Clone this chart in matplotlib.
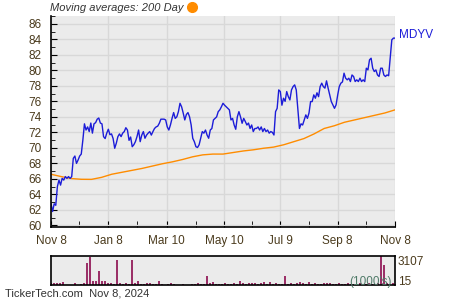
import numpy as np
import pandas as pd
import matplotlib
matplotlib.use("Agg")
import matplotlib.pyplot as plt
import matplotlib.dates as mdates
from matplotlib.ticker import MultipleLocator, FixedLocator, NullFormatter

plt.rcParams['font.family'] = ['Liberation Sans', 'DejaVu Sans']

# MDYV closing prices (Nov 8 2023 -> Nov 8 2024)
price = [62.8, 61.8, 62.8, 62.6, 65.0, 65.85, 65.2, 66.07, 65.85, 66.3, 66.07, 66.3, 66.07, 66.3,
         68.65, 68.95, 68.0, 68.43, 68.95, 69.2, 71.0, 73.1, 72.3, 72.7, 72.1, 73.2, 71.9, 73.1,
         73.25, 73.7, 73.85, 73.2, 73.1, 71.45, 71.2, 71.9, 72.4, 71.7, 71.8, 71.2, 69.95, 70.6,
         71.45, 71.8, 71.45, 71.9, 72.1, 72.6, 72.3, 70.97, 71.4, 70.15, 70.4, 70.8, 71.45, 72.3,
         70.8, 71.65, 72.1, 71.24, 71.65, 71.9, 72.1, 71.65, 72.1, 72.5, 72.7, 72.8, 73.17, 73.7,
         73.7, 73.7, 73.6, 72.7, 72.3, 72.96, 73.8, 74.55, 73.8, 74.0, 74.67, 75.75, 75.3, 74.5,
         73.6, 74.3, 74.55, 74.0, 72.96, 71.24, 70.8, 70.15, 70.05, 70.4, 71.24, 72.1, 71.9, 72.3,
         71.65, 71.24, 72.3, 72.5, 73.6, 73.8, 74.0, 74.67, 74.9, 75.3,
         75.75, 75.5, 75.3, 75.1, 74.9, 73.6, 73.8, 72.95, 72.4, 74.0, 74.67, 74.0, 73.17, 73.8,
         73.4, 72.95, 73.2, 72.5, 72.95, 72.1, 72.5, 72.5, 72.7, 72.3, 72.7, 72.1, 72.5, 72.1,
         72.3, 71.9, 72.1, 72.0, 71.66, 74.67, 75.1, 77.47, 77.26, 75.5, 76.4, 76.0, 77.26, 76.6,
         76.18, 77.47, 77.9, 78.12, 77.47, 74.9, 72.5, 73.1, 72.95, 73.6, 74.25, 73.8, 74.5,
         75.97, 75.97, 76.83, 76.4, 77.1, 76.6, 77.9, 78.34, 77.9, 77.7, 78.64, 77.7, 76.83, 75.97,
         75.54, 75.1, 75.54, 76.8, 77.9, 78.34, 78.5, 79.63, 78.98, 78.77, 78.98, 78.55, 79.4, 79.2,
         78.55, 78.77, 78.55, 78.98, 78.55, 78.77, 78.55, 80.27, 80.05, 81.35, 81.56, 80.27, 79.84,
         80.05, 79.4, 79.2, 80.27, 80.27, 79.4, 79.2, 79.4, 79.3, 81.56, 83.93, 84.15, 84.15]

# 200 day moving average
ma200 = [66.6, 66.3, 66.05, 65.95, 65.94, 66.2, 66.6, 66.85, 67.1, 67.35, 67.65, 67.95, 68.2,
         68.5, 68.85, 69.1, 69.2, 69.2, 69.4, 69.6, 69.75, 69.95, 70.1, 70.4, 70.8, 71.2, 71.8,
         72.5, 72.85, 73.3, 73.6, 73.9, 74.2, 74.5, 74.9]

# volume (1000's)
volume = [180, 200, 250, 180, 300, 0, 0, 0, 200, 0, 150, 180, 2400, 3050, 400, 450, 1500, 450,
          450, 200, 180, 150, 2680, 200, 150, 180, 150, 2700, 200, 400, 150, 150, 250, 180, 150,
          150, 450, 150, 0, 150, 180, 150, 0, 0, 150, 0, 0, 150, 150, 180, 150, 150, 960, 180,
          350, 150, 150, 150, 180, 150, 150, 200, 150, 400, 200, 150, 180, 250, 250, 150, 180,
          350, 150, 350, 150, 180, 150, 150, 960, 150, 180, 150, 250, 300, 250, 150, 350, 150,
          180, 150, 150, 180, 250, 250, 150, 150, 180, 150, 150, 180, 150, 150, 150, 180, 150,
          150, 180, 150, 150, 180, 3107, 2140, 200, 150, 180]

tick_dates = ['2023-11-08', '2024-01-08', '2024-03-10', '2024-05-10', '2024-07-09', '2024-09-08', '2024-11-08']
tick_labels = ['Nov 8', 'Jan 8', 'Mar 10', 'May 10', 'Jul 9', 'Sep 8', 'Nov 8']
minor_dates = ['2023-12-08', '2024-02-08', '2024-04-10', '2024-06-09', '2024-08-09', '2024-10-08']

start, end = pd.Timestamp('2023-11-08'), pd.Timestamp('2024-11-08')
price_dates = pd.date_range(start, end, periods=len(price))
ma_dates = pd.date_range(start, end, periods=len(ma200))
vol_dates = pd.date_range(start, pd.Timestamp('2024-11-06'), periods=len(volume))

txt = '#4a3a1c'
fig = plt.figure(figsize=(4.5, 3), dpi=100)
ax = fig.add_axes([51/450, 73/300, 344/450, 211/300])
ax.set_facecolor('#ebebeb')
ax.plot(ma_dates, ma200, color='#ff8c00', lw=1)
ax.plot(price_dates, price, color='#1c1cd8', lw=1)
ax.set_xlim(start, end)
ax.set_ylim(59.8, 87.0)

ax.yaxis.set_major_locator(MultipleLocator(2))
ax.yaxis.set_minor_locator(MultipleLocator(1))
ax.xaxis.set_major_locator(FixedLocator(mdates.date2num(pd.to_datetime(tick_dates))))
ax.xaxis.set_minor_locator(FixedLocator(mdates.date2num(pd.to_datetime(minor_dates))))
ax.set_xticklabels(tick_labels)
ax.xaxis.set_minor_formatter(NullFormatter())
ax.tick_params(axis='both', which='both', direction='in', colors='black', labelcolor=txt, labelsize=8.5)
ax.tick_params(axis='y', which='major', length=4, pad=6.5)
ax.tick_params(axis='y', which='minor', length=3)
ax.tick_params(axis='x', which='both', length=4, pad=6)
ax.grid(True, which='major', color='#d8d8d8', lw=1)
ax.set_axisbelow(True)
for s in ['top', 'right']:
    ax.spines[s].set_visible(False)
ax.spines['left'].set_linewidth(1.2)
ax.spines['bottom'].set_linewidth(1.2)

ax.annotate('MDYV', xy=(price_dates[-1], price[-1]), xytext=(3, 2), textcoords='offset points',
            color='#1c1cd8', fontsize=8.5, va='center', ha='left', annotation_clip=False)

fig.text(50/450, 1 - 8/300, 'Moving averages: 200 Day', fontsize=8, style='italic',
         color='#333333', va='center', ha='left')
fig.lines.append(plt.Line2D([192/450], [1 - 7/300], marker='o', markersize=7, color='#ff8c00',
                            transform=fig.transFigure))

# volume panel
axv = fig.add_axes([51/450, 15/300, 344/450, 29/300])
axv.set_facecolor('#ebebeb')
axv.bar(vol_dates, volume, width=2.4, color='#9b3068')
axv.set_xlim(start, end)
axv.set_ylim(0, 3107)
axv.set_xticks([])
axv.set_yticks([])
for s in axv.spines.values():
    s.set_linewidth(1.2)
axv.text(1.008, 0.78, '3107', transform=axv.transAxes, fontsize=8.5, color=txt, va='center', ha='left')
axv.text(1.008, 0.12, '15', transform=axv.transAxes, fontsize=8.5, color=txt, va='center', ha='left')
axv.text(0.99, 0.12, "(1000's)", transform=axv.transAxes, fontsize=8.5, color='#4f7a68', va='center', ha='right')

fig.text(5/450, 6/300, 'TickerTech.com  Nov 8, 2024', fontsize=8, color='#333333', va='center', ha='left')

fig.savefig('out.png', dpi=100)
